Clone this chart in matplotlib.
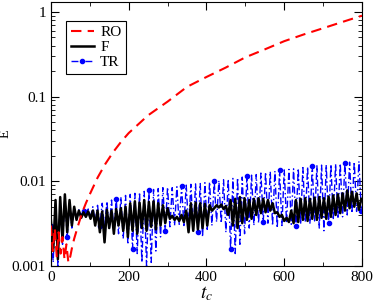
import numpy as np
import matplotlib
matplotlib.use("Agg")
import matplotlib.pyplot as plt
from matplotlib.ticker import LogLocator, MultipleLocator, FixedFormatter, FixedLocator

plt.rcParams['font.family'] = ['Liberation Serif', 'DejaVu Serif']
plt.rcParams['mathtext.fontset'] = 'stix'

# RO curve
ro_t = [0, 5, 10, 15, 20, 25, 30, 35, 40, 45, 50, 55, 60, 70, 80, 90, 100, 120, 140,
        160, 180, 200, 250, 300, 350, 400, 450, 500, 550, 600, 650, 700, 750, 800]
ro_e = [0.003, 0.0015, 0.0028, 0.0013, 0.0025, 0.0014, 0.0022, 0.0012, 0.0018, 0.0011,
        0.0013, 0.0017, 0.0021, 0.003, 0.0042, 0.0055, 0.007, 0.011, 0.016, 0.022,
        0.029, 0.037, 0.06, 0.087, 0.13, 0.17, 0.22, 0.29, 0.36, 0.45, 0.54, 0.64,
        0.76, 0.9]

# F and TR sampled every 6 time units
osc_t = np.arange(0, 801, 6)
f_e = [0.0035, 0.0015, 0.006, 0.0012, 0.0065, 0.002, 0.007, 0.0025, 0.006, 0.003, 0.005,
       0.0035, 0.0045, 0.0037, 0.0043, 0.0038, 0.0044, 0.0036, 0.0045,
       0.003, 0.0045, 0.0025, 0.0044, 0.0019, 0.0046, 0.0028, 0.0045, 0.0024, 0.0047,
       0.003, 0.0048, 0.0026, 0.005,
       0.0022, 0.0055, 0.0026, 0.0058, 0.0024, 0.0056, 0.0028, 0.006, 0.0026, 0.0057,
       0.0029, 0.0058, 0.0027, 0.0055, 0.003, 0.0052, 0.0032, 0.0048,
       0.0036, 0.0039, 0.0035, 0.0038, 0.0034, 0.004, 0.0033, 0.0045,
       0.0025, 0.0055, 0.0026, 0.0056, 0.0027, 0.0055, 0.0028, 0.0054, 0.003, 0.0052, 0.0045,
       0.0048, 0.0052, 0.0049, 0.0053, 0.0047, 0.0051, 0.004,
       0.006, 0.003, 0.0062, 0.0028, 0.0065, 0.0032, 0.0063, 0.0035, 0.006, 0.0036, 0.0062,
       0.004, 0.0063, 0.0042, 0.0062, 0.0043, 0.006, 0.0045, 0.0055, 0.0042,
       0.0043, 0.0038, 0.004, 0.0034, 0.0037, 0.0033, 0.0045,
       0.0032, 0.006, 0.0033, 0.0062, 0.0035, 0.0063, 0.0034, 0.0062, 0.0036, 0.0064,
       0.0035, 0.0065, 0.0037, 0.0063, 0.0036, 0.0066, 0.0038, 0.0068, 0.004, 0.007,
       0.0042, 0.0072, 0.0045,
       0.0078, 0.0048, 0.0075, 0.005, 0.0072, 0.0046, 0.0062]
tr_e = [0.003, 0.0011, 0.0055, 0.001, 0.006, 0.0018, 0.0068, 0.0022, 0.0055, 0.0028, 0.0048,
        0.0038, 0.0046, 0.004, 0.0045, 0.0039, 0.0047, 0.0038, 0.005,
        0.0033, 0.0052, 0.003, 0.0055, 0.0028, 0.0058, 0.0027, 0.006, 0.0025, 0.0062,
        0.0024, 0.0065, 0.0021, 0.0068,
        0.0018, 0.007, 0.0016, 0.0072, 0.0014, 0.0074, 0.0011, 0.0076, 0.001, 0.0078,
        0.0011, 0.008, 0.0015, 0.0082, 0.0022, 0.0084, 0.0026, 0.0085,
        0.0029, 0.0084, 0.003, 0.0086, 0.0031, 0.0088, 0.003, 0.009,
        0.0028, 0.0092, 0.0026, 0.0093, 0.0025, 0.0094, 0.0022, 0.0096, 0.0027, 0.0098, 0.003,
        0.01, 0.0033, 0.0102, 0.0032, 0.0104, 0.0025, 0.0106,
        0.0016, 0.0108, 0.0014, 0.011, 0.0018, 0.0112, 0.0024, 0.0115, 0.0028, 0.0118, 0.003,
        0.012, 0.0032, 0.0125, 0.0033, 0.0128, 0.0032, 0.013, 0.003, 0.0132,
        0.0028, 0.0134, 0.003, 0.0136, 0.0032, 0.0138, 0.0031,
        0.014, 0.003, 0.0142, 0.0031, 0.0145, 0.0033, 0.0148, 0.0032, 0.015, 0.0034,
        0.0152, 0.0028, 0.0155, 0.0026, 0.0156, 0.0032, 0.0158, 0.0035, 0.016, 0.0036,
        0.0162, 0.0038, 0.0165,
        0.004, 0.0168, 0.0042, 0.017, 0.0044, 0.0172, 0.0045]

fig = plt.figure(figsize=(3.74, 3.05), dpi=100)
ax = fig.add_axes([0.136, 0.128, 0.832, 0.865])

ax.plot(osc_t, tr_e, color='blue', lw=1.0, linestyle=(0, (5, 2, 1, 2)),
        marker='o', markersize=3, markevery=7, label='TR', zorder=2)
ax.plot(osc_t, f_e, color='black', lw=1.8, label='F', zorder=3)
ax.plot(ro_t, ro_e, color='red', lw=1.5, linestyle=(0, (5, 3)), label='RO', zorder=4)

ax.set_yscale('log')
ax.set_xlim(0, 800)
ax.set_ylim(0.001, 1.3)
ax.xaxis.set_major_locator(MultipleLocator(200))
ax.xaxis.set_minor_locator(MultipleLocator(100))
ax.yaxis.set_major_locator(FixedLocator([0.001, 0.01, 0.1, 1]))
ax.yaxis.set_major_formatter(FixedFormatter(['0.001', '0.01', '0.1', '1']))
ax.yaxis.set_minor_locator(LogLocator(base=10, subs=np.arange(2, 10)))
ax.tick_params(which='both', direction='in', top=True, right=True, labelsize=11)
ax.tick_params(which='major', length=6)
ax.tick_params(which='minor', length=3)
ax.tick_params(axis='y', which='minor', labelleft=False)

ax.set_xlabel('$t_c$', fontsize=14, labelpad=0)
ax.set_ylabel('E', fontsize=10)
ax.yaxis.set_label_coords(-0.125, 0.5)

handles, labels = ax.get_legend_handles_labels()
order = [2, 1, 0]
leg = ax.legend([handles[i] for i in order], [labels[i] for i in order],
                loc='upper left', bbox_to_anchor=(0.05, 0.93), fontsize=11,
                handlelength=1.5, handletextpad=0.4, borderpad=0.3,
                labelspacing=0.1, fancybox=False, framealpha=1, borderaxespad=0)
leg.get_frame().set_edgecolor('black')
leg.get_frame().set_linewidth(0.8)

fig.savefig('out.png', dpi=100)
